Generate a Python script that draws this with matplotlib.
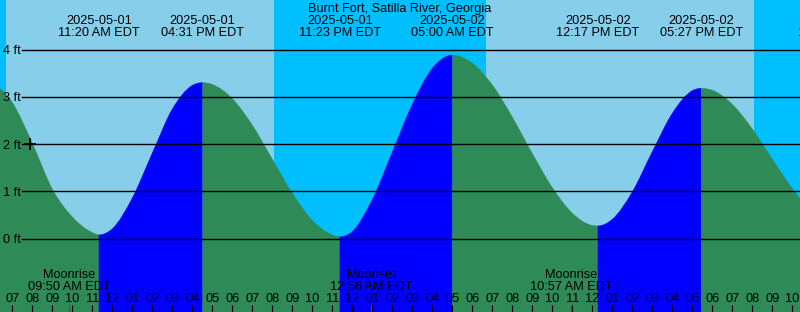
import matplotlib
matplotlib.use("Agg")
import matplotlib.pyplot as plt
from matplotlib.path import Path
from matplotlib.patches import PathPatch
from matplotlib.transforms import blended_transform_factory
import numpy as np

# ---------------- data (hours since 2025-05-01 00:00 EDT) ----------------
title = "Burnt Fort, Satilla River, Georgia"

# hourly tide heights (ft)
tide_hours = [6, 7, 8, 9, 10, 11,
              12, 13, 14, 15, 16,
              17, 18, 19, 20, 21, 22, 23,
              24, 25, 26, 27, 28,
              30, 31, 32, 33, 34, 35, 36,
              37, 38, 39, 40, 41,
              42, 43, 44, 45, 46, 47]
tide_heights = [3.33, 2.88, 2.02, 1.05, 0.46, 0.13,
                0.21, 0.86, 1.81, 2.74, 3.24,
                3.26, 2.96, 2.40, 1.68, 0.96, 0.39, 0.08,
                0.15, 0.83, 1.83, 2.84, 3.60,
                3.71, 3.25, 2.57, 1.80, 1.08, 0.54, 0.28,
                0.41, 0.99, 1.84, 2.65, 3.13,
                3.14, 2.84, 2.32, 1.68, 1.06, 0.57]

# high / low tide events
extreme_hours = [11 + 20/60, 16 + 31/60, 23 + 23/60, 29.0, 36 + 17/60, 41 + 27/60, 48 + 22/60]
extreme_heights = [0.08, 3.30, 0.04, 3.88, 0.27, 3.18, 0.30]
extreme_dates = ["2025-05-01", "2025-05-01", "2025-05-01", "2025-05-02",
                 "2025-05-02", "2025-05-02", "2025-05-03"]
extreme_times = ["11:20 AM EDT", "04:31 PM EDT", "11:23 PM EDT", "05:00 AM EDT",
                 "12:17 PM EDT", "05:27 PM EDT", "12:22 AM EDT"]

# sun (day periods)
sunrise_hours = [6 + 41/60, 30 + 41/60]
sunset_hours = [20 + 5/60, 44 + 5/60]

# moon events
moon_hours = [9 + 50/60, 24 + 56/60, 34 + 57/60]
moon_names = ["Moonrise", "Moonset", "Moonrise"]
moon_times = ["09:50 AM EDT", "12:56 AM EDT", "10:57 AM EDT"]

# current-time marker
marker_hour = 7.88
marker_height = 2.0

tick_hours = list(range(7, 47))
ft_levels = [0, 1, 2, 3, 4]

# ---------------- figure ----------------
W, H = 800, 312
fig = plt.figure(figsize=(W / 100, H / 100), dpi=100)
ax = fig.add_axes([0, 0, 1, 1])
ax.set_axis_off()

px_per_ft = 47.3
zero_px = 238.7
x0_hour = 6.385
ax.set_xlim(x0_hour, x0_hour + 40)
ax.set_ylim(-(H - zero_px) / px_per_ft, zero_px / px_per_ft)

NIGHT = "#00BFFF"
DAY = "#87CEEB"
RISE = "#0000FF"
FALL = "#2E8B57"

# background night / day
ax.axvspan(0, 60, color=NIGHT, lw=0, zorder=0)
for sr, ss in zip(sunrise_hours, sunset_hours):
    ax.axvspan(sr, ss, color=DAY, lw=0, zorder=0.5)

# ---------------- tide curve ----------------
pts = sorted(list(zip(tide_hours, tide_heights)) + list(zip(extreme_hours, extreme_heights)))
px = np.array([p[0] for p in pts], float)
py = np.array([p[1] for p in pts], float)
ext_set = set(np.round(extreme_hours, 6))

# smooth tangents (three-point derivative), flat at highs and lows
n = len(px)
hseg = np.diff(px)
d = np.diff(py) / hseg
m = np.zeros(n)
for i in range(1, n - 1):
    if round(px[i], 6) in ext_set:
        m[i] = 0.0
    else:
        m[i] = (d[i - 1] * hseg[i] + d[i] * hseg[i - 1]) / (hseg[i - 1] + hseg[i])
m[0] = d[0]
m[-1] = d[-1]

bottom = -5
idx_ext = [i for i in range(n) if round(px[i], 6) in ext_set]
bounds = [0] + idx_ext + [n - 1]
for a, b in zip(bounds[:-1], bounds[1:]):
    if b <= a:
        continue
    verts = [(px[a], bottom), (px[a], py[a])]
    codes = [Path.MOVETO, Path.LINETO]
    for i in range(a, b):
        hh = px[i + 1] - px[i]
        verts += [(px[i] + hh / 3, py[i] + m[i] * hh / 3),
                  (px[i + 1] - hh / 3, py[i + 1] - m[i + 1] * hh / 3),
                  (px[i + 1], py[i + 1])]
        codes += [Path.CURVE4] * 3
    verts += [(px[b], bottom), (px[a], bottom)]
    codes += [Path.LINETO, Path.CLOSEPOLY]
    color = RISE if py[b] > py[a] else FALL
    ax.add_patch(PathPatch(Path(verts, codes), facecolor=color, edgecolor=color,
                           lw=0.3, zorder=1))

# ---------------- grid lines & labels ----------------
FONT = "Liberation Sans"
FS = 9.2
for lv in ft_levels:
    ax.axhline(lv, xmin=22 / W, xmax=1, color="black", lw=1.0, zorder=2)

fig_tr = blended_transform_factory(ax.transData, fig.transFigure)
pix_tr = fig.transFigure

def ypix(y):
    return 1 - y / H

for lv in ft_levels:
    yp = zero_px - lv * px_per_ft
    fig.text(3 / W, ypix(yp + 4.5), f"{lv} ft", ha="left", va="baseline",
             fontsize=FS, family=FONT, color="black", zorder=3)

ax.text(0.5, ypix(11.7), title, transform=pix_tr, ha="center", va="baseline",
        fontsize=FS, family=FONT, color="black", zorder=4)

for t, dstr, tstr in zip(extreme_hours, extreme_dates, extreme_times):
    ax.text(t, ypix(24), dstr, transform=fig_tr, ha="center", va="baseline",
            fontsize=FS, family=FONT, color="black", zorder=4, clip_on=False)
    ax.text(t, ypix(36), tstr, transform=fig_tr, ha="center", va="baseline",
            fontsize=FS, family=FONT, color="black", zorder=4, clip_on=False)

for t, nm, tstr in zip(moon_hours, moon_names, moon_times):
    ax.text(t, ypix(278.3), nm, transform=fig_tr, ha="center", va="baseline",
            fontsize=FS, family=FONT, color="black", zorder=4)
    ax.text(t, ypix(290), tstr, transform=fig_tr, ha="center", va="baseline",
            fontsize=FS, family=FONT, color="black", zorder=4)

# hour ticks and labels
for t in tick_hours:
    hr = t % 12
    lab = f"{12 if hr == 0 else hr:02d}"
    ax.text(t, ypix(301.7), lab, transform=fig_tr, ha="center", va="baseline",
            fontsize=FS, family=FONT, color="black", zorder=4)
    lw = 2.2 if t % 24 == 0 else 0.8
    ax.plot([t, t], [ypix(305), ypix(312)], transform=fig_tr, color="black",
            lw=lw, solid_capstyle="butt", zorder=4)

for t in moon_hours:
    ax.plot([t, t], [ypix(305), ypix(312)], transform=fig_tr, color="red",
            lw=0.8, solid_capstyle="butt", zorder=4)

ax.plot([marker_hour], [marker_height], marker="+", color="black",
        markersize=8, mew=1.3, zorder=5)

fig.savefig("out.png", dpi=100)
